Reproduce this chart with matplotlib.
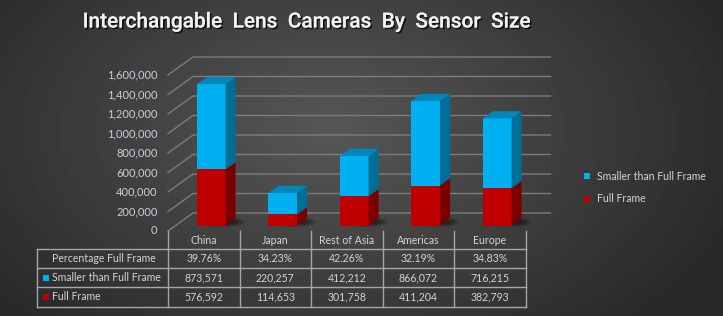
import numpy as np
import matplotlib.pyplot as plt
import matplotlib.patheffects as pe
from matplotlib.patches import Polygon, Rectangle, Ellipse
from matplotlib.transforms import blended_transform_factory

# data
regions = ['China', 'Japan', 'Rest of Asia', 'Americas', 'Europe']
full_frame = [576592, 114653, 301758, 411204, 382793]
smaller = [873571, 220257, 412212, 866072, 716215]
pct_full = ['39.76%', '34.23%', '42.26%', '32.19%', '34.83%']
y_ticks = np.arange(0, 1600001, 200000)

W, H = 723, 316
fig = plt.figure(figsize=(W / 100, H / 100), dpi=100)

# radial dark background
bg = fig.add_axes([0, 0, 1, 1])
bg.axis('off')
yy, xx = np.mgrid[0:H, 0:W]
r = np.sqrt(((xx - 330) / 430) ** 2 + ((yy - 130) / 270) ** 2)
shade = 0.34 - 0.18 * np.clip(r, 0, 1)
bg.imshow(shade, cmap='gray', vmin=0, vmax=1, aspect='auto', extent=[0, 1, 0, 1])
bg.set_xlim(0, 1)
bg.set_ylim(0, 1)

# plot area (pseudo 3d)
CAT_PX = 71.5
VAL_PX = 97.5e-6
DX = 25 / CAT_PX
DY = 18 / VAL_PX
ax = fig.add_axes([168 / W, (H - 231) / H, 382 / W, 174 / H])
ax.set_xlim(-0.5, -0.5 + 382 / CAT_PX)
ax.set_ylim(0, 174 / VAL_PX)
ax.axis('off')

grid_col = '#7c7c7c'
lab_col = '#c8cfdc'
txt_col = '#d4d4d4'
body_font = ['Lato', 'DejaVu Sans']

for v in y_ticks:
    ax.plot([-0.5, -0.5 + DX, 4.5 + DX], [v, v + DY, v + DY], color=grid_col, lw=1, clip_on=False, zorder=1)
    ax.annotate(f'{v:,}', (-0.5, v), xytext=(-7.5, 0), textcoords='offset points',
                ha='right', va='center', color=lab_col, fontsize=8, family=body_font)


def proj(x, v, f):
    return (x + f * DX, v + f * DY)


f0, f1 = 0.3, 0.7
hw = 0.2


def box(c, lo, hi, front, side, top=None):
    ax.add_patch(Polygon([proj(c - hw, lo, f0), proj(c + hw, lo, f0), proj(c + hw, hi, f0), proj(c - hw, hi, f0)],
                         closed=True, fc=front, ec='none', zorder=3))
    ax.add_patch(Polygon([proj(c + hw, lo, f0), proj(c + hw, lo, f1), proj(c + hw, hi, f1), proj(c + hw, hi, f0)],
                         closed=True, fc=side, ec='none', zorder=3))
    if top is not None:
        ax.add_patch(Polygon([proj(c - hw, hi, f0), proj(c + hw, hi, f0), proj(c + hw, hi, f1), proj(c - hw, hi, f1)],
                             closed=True, fc=top, ec='none', zorder=3))


for i, (ff, sm) in enumerate(zip(full_frame, smaller)):
    # soft floor shadow
    for k in range(4):
        ax.add_patch(Ellipse(proj(i + 0.1, 0, 0.5), 0.6 - 0.08 * k, (10 - 2 * k) / VAL_PX,
                             fc='black', ec='none', alpha=0.15, zorder=2))
    box(i, 0, ff, '#c00000', '#7a0000')
    box(i, ff, ff + sm, '#00b0f0', '#006f98', '#0087bb')

# data table below the plot
tr = blended_transform_factory(ax.transData, fig.transFigure)
x_left = -0.5 - (168 - 37) / CAT_PX


def fy(py):
    return (H - py) / H


line_kw = dict(color='#a6a6a6', lw=1, transform=tr, clip_on=False)
for b in np.arange(-0.5, 4.6, 1.0):
    ax.plot([b, b], [fy(231), fy(307)], **line_kw)
ax.plot([x_left, x_left], [fy(249.3), fy(307)], **line_kw)
for py in [249.3, 268.3, 287.3, 307]:
    ax.plot([x_left, 4.5], [fy(py), fy(py)], **line_kw)

fs = 7.6
row_y = [258.8, 277.8, 297.0]
for i, name in enumerate(regions):
    ax.text(i, fy(240.5), name, transform=tr, ha='center', va='center', color=txt_col, fontsize=fs, family=body_font)
    ax.text(i, fy(row_y[0]), pct_full[i], transform=tr, ha='center', va='center', color=txt_col, fontsize=fs, family=body_font)
    ax.text(i, fy(row_y[1]), f'{smaller[i]:,}', transform=tr, ha='center', va='center', color=txt_col, fontsize=fs, family=body_font)
    ax.text(i, fy(row_y[2]), f'{full_frame[i]:,}', transform=tr, ha='center', va='center', color=txt_col, fontsize=fs, family=body_font)

row_names = ['Percentage Full Frame', 'Smaller than Full Frame', 'Full Frame']
row_keys = [None, '#00b0f0', '#c00000']
for name, key, py in zip(row_names, row_keys, row_y):
    fig.text(52 / W, fy(py), name, ha='left', va='center', color=txt_col, fontsize=fs, family=body_font)
    if key:
        fig.patches.append(Rectangle((43 / W, fy(py + 3)), 6 / W, 6 / H, fc=key, ec='none',
                                     transform=fig.transFigure))

# legend
for name, key, py in zip(['Smaller than Full Frame', 'Full Frame'], ['#00b0f0', '#c00000'], [176, 199]):
    fig.text(597 / W, fy(py), name, ha='left', va='center', color=txt_col, fontsize=fs, family=body_font)
    fig.patches.append(Rectangle((584 / W, fy(py + 3)), 6 / W, 6 / H, fc=key, ec='none',
                                 transform=fig.transFigure))

fig.text(307 / W, fy(22), 'Interchangable  Lens  Cameras  By  Sensor  Size', ha='center', va='center',
         color='#f2f2f2', fontsize=15, fontweight='medium', family=['Roboto', 'DejaVu Sans'],
         path_effects=[pe.withSimplePatchShadow(offset=(1.2, -1.2), shadow_rgbFace='black', alpha=0.7), pe.Normal()])

fig.savefig('out.png', dpi=100)
